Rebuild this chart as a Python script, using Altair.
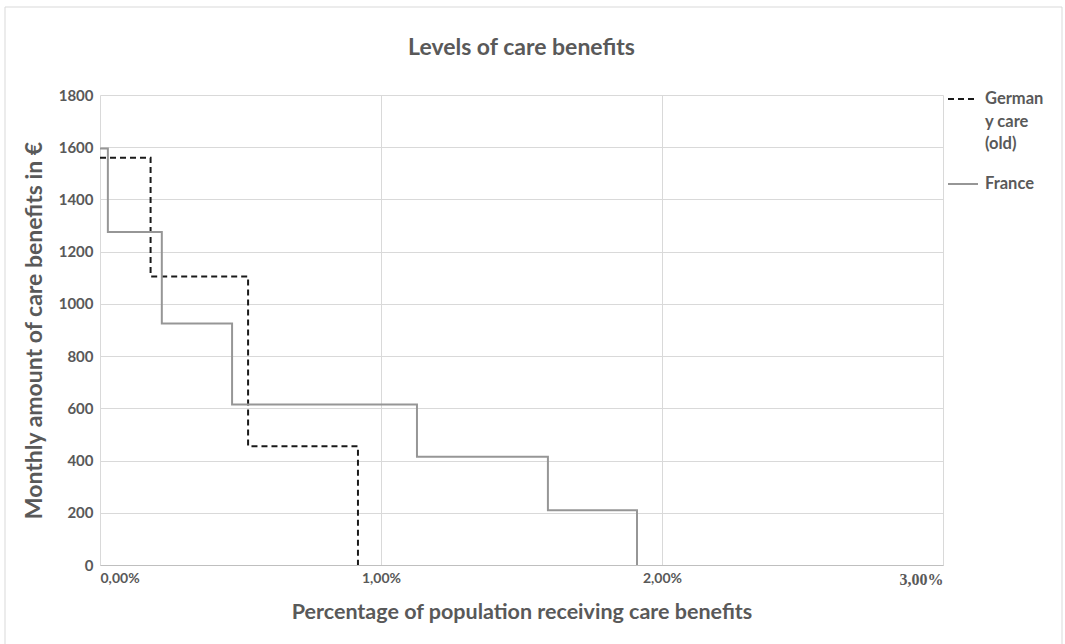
import altair as alt
import pandas as pd

# Share of population (as a fraction) where each benefit level starts, and the monthly amount in €
germany_share = [0.0, 0.0018, 0.00527, 0.00918]
germany_amount = [1560, 1105, 455, 0]

france_share = [0.0, 0.00028, 0.0022, 0.0047, 0.01128, 0.01594, 0.01911]
france_amount = [1595, 1275, 925, 615, 415, 210, 0]

series_names = ["Germany care (old)", "France"]
series_colors = ["#1a1a1a", "#969696"]
series_dashes = [[6, 4], [1, 0]]

x_ticks = [0.0, 0.01, 0.02, 0.03]
y_ticks = [0, 200, 400, 600, 800, 1000, 1200, 1400, 1600, 1800]

chart_title = "Levels of care benefits"

rows = []
for s, a in zip(germany_share, germany_amount):
    rows.append({"series": series_names[0], "share": s, "amount": a, "order": len(rows)})
for s, a in zip(france_share, france_amount):
    rows.append({"series": series_names[1], "share": s, "amount": a, "order": len(rows)})
df = pd.DataFrame(rows)

FONT = "Lato"
TEXT = "#595959"
GRID = "#d9d9d9"

lines = (
    alt.Chart(df)
    .mark_line(interpolate="step-after", strokeWidth=2)
    .encode(
        x=alt.X(
            "share:Q",
            scale=alt.Scale(domain=[0, 0.03], nice=False),
            axis=alt.Axis(
                values=x_ticks,
                format=".2%",
                labelExpr="replace(datum.label, '.', ',')",
                title="Percentage of population receiving care benefits",
                titleFontSize=21.5,
                titlePadding=14,
                labelFontSize={
                    "condition": {"test": "datum.value == 0.03", "value": 16},
                    "value": 14,
                },
                labelPadding=6,
                labelFont={
                    "condition": {"test": "datum.value == 0.03", "value": "Liberation Serif"},
                    "value": FONT,
                },
                grid=True,
                gridColor=GRID,
                domainColor="#bfbfbf",
                ticks=False,
            ),
        ),
        y=alt.Y(
            "amount:Q",
            scale=alt.Scale(domain=[0, 1800], nice=False),
            axis=alt.Axis(
                values=y_ticks,
                format="d",
                title="Monthly amount of care benefits in €",
                titleFontSize=23,
                titlePadding=12,
                labelFontSize=15,
                labelPadding=7,
                grid=True,
                gridColor=GRID,
                domain=False,
                ticks=False,
            ),
        ),
        color=alt.Color(
            "series:N",
            scale=alt.Scale(domain=series_names, range=series_colors),
            legend=alt.Legend(
                title=None,
                orient="none",
                legendX=847,
                legendY=-12,
                symbolType="stroke",
                symbolSize=900,
                symbolStrokeWidth=2,
                symbolDash=[6, 4],
                labelFontSize=16.5,
                labelExpr="datum.label == 'Germany care (old)' ? ['German', 'y care', '(old)'] : datum.label",
                rowPadding=15,
                labelOffset=6,
            ),
        ),
        strokeDash=alt.StrokeDash(
            "series:N",
            scale=alt.Scale(domain=series_names, range=series_dashes),
            legend=None,
        ),
        order="order:Q",
    )
)

# chart heading, centred over the plot area
heading = alt.Chart(pd.DataFrame({"t": [chart_title]})).mark_text(
    font=FONT, fontSize=23, fontWeight="bold", color=TEXT, baseline="middle", align="center"
).encode(x=alt.value(421.5), y=alt.value(-47), text="t:N")

# light frame around the whole chart
frame = alt.Chart(pd.DataFrame({"k": [0]})).mark_rect(
    fill=None, stroke="#d9d9d9", strokeWidth=1
).encode(
    x=alt.value(-95), x2=alt.value(962), y=alt.value(-88), y2=alt.value(640)
)

chart = (
    alt.layer(frame, heading, lines)
    .properties(
        width=843,
        height=470,
        autosize="none",
        padding={"left": 100, "top": 95, "right": 122, "bottom": 79},
        background="white",
    )
    .configure(style={"guide-label": {"lineHeight": 22.5}})
    .configure_view(stroke=None)
    .configure_axis(
        labelFont=FONT,
        titleFont=FONT,
        labelColor=TEXT,
        titleColor=TEXT,
        labelFontWeight="bold",
        titleFontWeight="bold",
    )
    .configure_legend(labelFont=FONT, labelColor=TEXT, labelFontWeight="bold")
)

chart.save("out.html", embed_options={"renderer": "svg", "actions": False})
